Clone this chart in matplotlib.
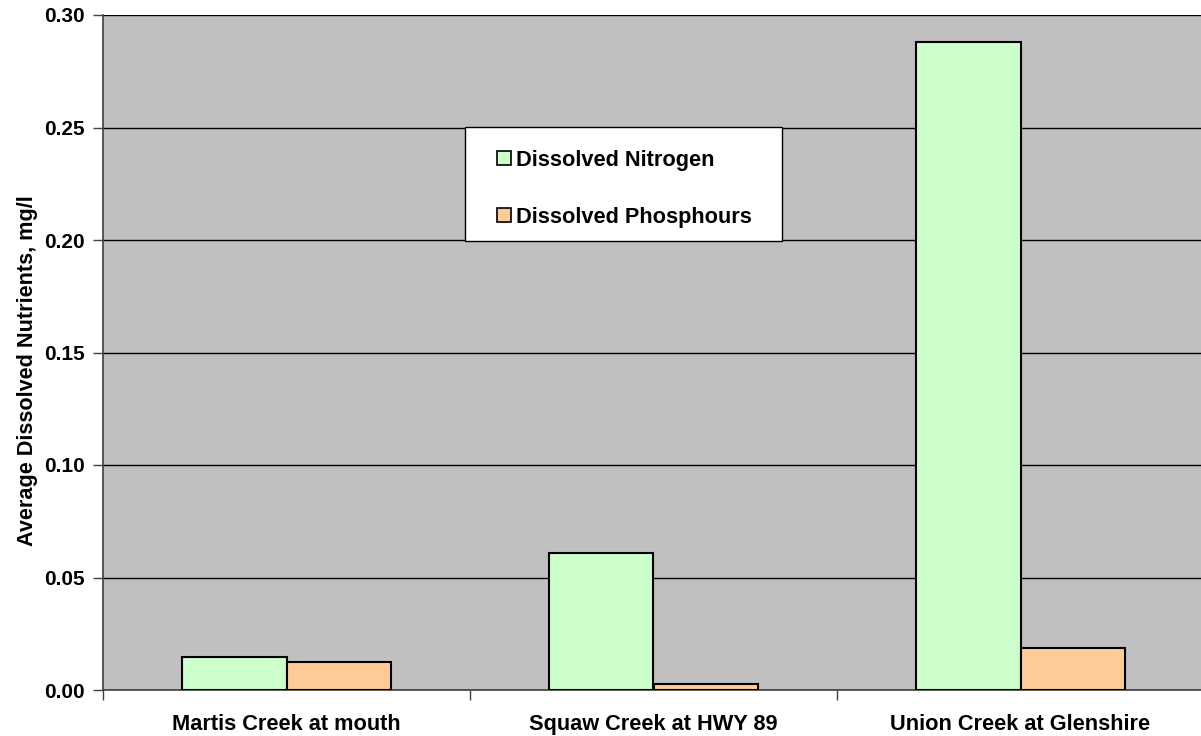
import matplotlib
matplotlib.use("Agg")
import matplotlib.pyplot as plt
import numpy as np
from matplotlib.patches import Rectangle

categories = ["Martis Creek at mouth", "Squaw Creek at HWY 89", "Union Creek at Glenshire"]
series_names = ["Dissolved Nitrogen", "Dissolved Phosphours"]
nitrogen = [0.0148, 0.061, 0.288]
phosphorus = [0.0123, 0.0025, 0.0185]
yticks = [0.00, 0.05, 0.10, 0.15, 0.20, 0.25, 0.30]
colors = ['#CCFFCC', '#FFCC99']

plt.rcParams['font.family'] = ['Liberation Sans', 'DejaVu Sans']

W, H = 1201, 736
fig = plt.figure(figsize=(W / 100, H / 100), dpi=100)
left, right, top, bottom = 103, 1204, 15, 690
ax = fig.add_axes([left / W, 1 - bottom / H, (right - left) / W, (bottom - top) / H])
ax.set_facecolor('#C0C0C0')

x = np.arange(len(categories))
w = 1 / 3.5
ax.bar(x - w / 2, nitrogen, w, color=colors[0], edgecolor='black', linewidth=1.5, zorder=3)
ax.bar(x + w / 2, phosphorus, w, color=colors[1], edgecolor='black', linewidth=1.5, zorder=3)

ax.set_xlim(-0.5, len(categories) - 0.5)
ax.set_ylim(0, 0.30)
ax.set_yticks(yticks)
ax.set_yticklabels([f"{v:.2f}" for v in yticks], fontsize=15, fontweight='bold')
ax.yaxis.grid(True, color='black', linewidth=1, zorder=1)
ax.set_axisbelow(True)

ax.set_xticks(x)
ax.set_xticklabels(categories, fontsize=15.7, fontweight='bold')
ax.tick_params(axis='x', length=0, pad=17)
ax.set_xticks(np.arange(len(categories) + 1) - 0.5, minor=True)
ax.tick_params(axis='x', which='minor', length=7, color='#404040', width=1)
ax.tick_params(axis='y', length=7, color='#404040', width=1, pad=6)

for s in ['top', 'right']:
    ax.spines[s].set_visible(False)
ax.spines['left'].set_color('#404040')
ax.spines['bottom'].set_color('#404040')
ax.spines['left'].set_linewidth(1.2)
ax.spines['bottom'].set_linewidth(1.2)

ax.set_ylabel("Average Dissolved Nutrients, mg/l", fontsize=15.6, fontweight='bold')
ax.yaxis.set_label_coords((38 - left) / (right - left), (bottom - 371) / (bottom - top))

# Legend drawn in figure pixel coordinates
def fx(px):
    return px / W

def fy(py):
    return 1 - py / H

fig.patches.append(Rectangle((fx(465), fy(241)), fx(782) - fx(465), fy(127) - fy(241),
                             transform=fig.transFigure, facecolor='white',
                             edgecolor='black', linewidth=1, zorder=5))
for i, (name, col) in enumerate(zip(series_names, colors)):
    cy = 158 + i * 57
    fig.patches.append(Rectangle((fx(497), fy(cy + 7)), fx(511) - fx(497), fy(cy - 7) - fy(cy + 7),
                                 transform=fig.transFigure, facecolor=col,
                                 edgecolor='black', linewidth=1.2, zorder=6))
    fig.text(fx(516), fy(cy), name, fontsize=15.7, fontweight='bold',
             ha='left', va='center_baseline', zorder=6)

fig.savefig("out.png", dpi=100)
